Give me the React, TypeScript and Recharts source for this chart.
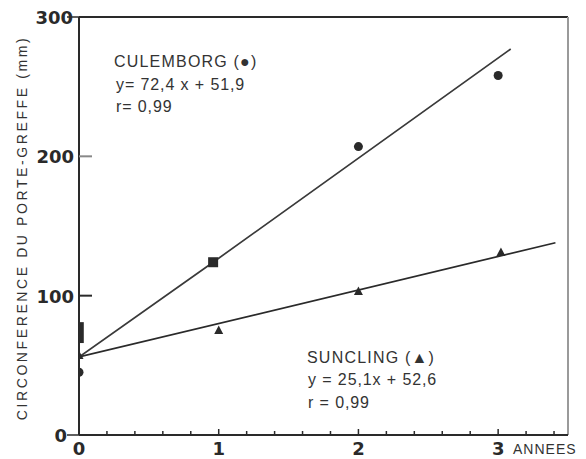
import React from "react";
import {
  ComposedChart,
  Line,
  ReferenceLine,
  Scatter,
  XAxis,
  YAxis
} from "recharts";

// x = années, y = circonférence du porte-greffe (mm)
const culemborgX = [0, 0.96, 2, 3];
const culemborgY = [45, 124, 207, 258];
const sunclingX = [0, 1, 2, 3.02];
const sunclingY = [57, 75, 103, 131];
// trait épais au départ (marques superposées à x = 0)
const overlapX = [0.02, 0.02];
const overlapY = [66, 81];

// droites de régression, extrémités
const culemborgFitX = [0, 0.96, 3.09];
const culemborgFitY = [56, 124, 277];
const sunclingFitX = [0, 3.41];
const sunclingFitY = [56, 138];

const xTicks = [0, 0.2, 0.4, 0.6, 0.8, 1, 1.2, 1.4, 1.6, 1.8, 2, 2.2, 2.4, 2.6, 2.8, 3, 3.2, 3.4];
const xLabels = ["0", "1", "2", "3"];
const yTicks = [0, 100, 200, 300];

const toPoints = (xs: number[], ys: number[]) => xs.map((x, i) => ({ x, y: ys[i] }));

const INK = "#2a2a2a";
const FONT = "'Liberation Sans', Arial, sans-serif";
const TICK_FONT = "'DejaVu Sans', sans-serif";

function XTick({ x, y, payload }: any) {
  const v = Number(payload.value);
  const major = Number.isInteger(v);
  return (
    <g>
      <line x1={x} x2={x} y1={y} y2={y - (major ? 6 : 4)} stroke={INK} strokeWidth={1.5} />
      {major && xLabels.includes(String(v)) && (
        <text x={x} y={y + 20} textAnchor="middle" fontFamily={TICK_FONT} fontWeight="bold" fontSize={18} fill={INK}>
          {String(v)}
        </text>
      )}
    </g>
  );
}

function YTick({ x, y, payload }: any) {
  const v = Number(payload.value);
  const inward = v === 100 || v === 200;
  return (
    <g>
      {inward ? (
        <line x1={x} x2={x + 13} y1={y} y2={y} stroke={v === 200 ? "#888" : INK} strokeWidth={2} />
      ) : (
        <line x1={x - 12} x2={x} y1={y} y2={y} stroke={INK} strokeWidth={1.5} />
      )}
      <text
        x={inward ? x - 5 : v === 0 ? x - 12 : x - 6}
        y={y + 7}
        textAnchor="end"
        fontFamily={TICK_FONT}
        fontWeight="bold"
        fontSize={18}
        fill={INK}
      >
        {String(v)}
      </text>
    </g>
  );
}

function Dot({ cx, cy, index }: any) {
  if (index === 1) {
    return <rect x={cx - 5} y={cy - 5} width={10} height={10} fill={INK} />;
  }
  return <circle cx={cx} cy={cy} r={4.5} fill={INK} />;
}

function Tri({ cx, cy }: any) {
  return <path d={`M${cx},${cy - 5} L${cx + 4.5},${cy + 3.5} L${cx - 4.5},${cy + 3.5} Z`} fill={INK} />;
}

const textStyle: React.CSSProperties = {
  position: "absolute",
  fontFamily: FONT,
  fontSize: 16,
  color: "#333",
  whiteSpace: "nowrap",
  lineHeight: "16px"
};

export default function App() {
  return (
    <div style={{ position: "absolute", left: 0, top: 0, width: 586, height: 459, background: "#fff" }}>
      <ComposedChart width={586} height={459} margin={{ top: 17, right: 18, bottom: 0, left: 0 }}>
        <XAxis
          type="number"
          dataKey="x"
          domain={[0, 3.5]}
          ticks={xTicks}
          interval={0}
          tickSize={0}
          tickMargin={0}
          tickLine={false}
          axisLine={{ stroke: INK, strokeWidth: 2 }}
          tick={<XTick />}
          height={24}
          allowDataOverflow
        />
        <YAxis
          type="number"
          dataKey="y"
          domain={[0, 300]}
          ticks={yTicks}
          interval={0}
          tickSize={0}
          tickMargin={0}
          tickLine={false}
          axisLine={{ stroke: INK, strokeWidth: 2 }}
          tick={<YTick />}
          width={79}
          allowDataOverflow
        />
        <ReferenceLine y={300} stroke={INK} strokeWidth={2} ifOverflow="visible" />
        <ReferenceLine x={3.5} stroke="#9a9a9a" strokeWidth={2} ifOverflow="visible" />
        <Line
          data={toPoints(culemborgFitX, culemborgFitY)}
          dataKey="y"
          type="linear"
          stroke="#3a3a3a"
          strokeWidth={1.7}
          dot={false}
          isAnimationActive={false}
        />
        <Line
          data={toPoints(sunclingFitX, sunclingFitY)}
          dataKey="y"
          type="linear"
          stroke="#2a2a2a"
          strokeWidth={1.7}
          dot={false}
          isAnimationActive={false}
        />
        <Line
          data={toPoints(overlapX, overlapY)}
          dataKey="y"
          type="linear"
          stroke={INK}
          strokeWidth={4}
          dot={false}
          isAnimationActive={false}
        />
        <Scatter data={toPoints(culemborgX, culemborgY)} dataKey="y" shape={<Dot />} isAnimationActive={false} />
        <Scatter data={toPoints(sunclingX, sunclingY)} dataKey="y" shape={<Tri />} isAnimationActive={false} />
      </ComposedChart>

      <div
        style={{
          ...textStyle,
          fontSize: 14,
          letterSpacing: 2.6,
          left: 22,
          top: 228,
          transform: "translate(-50%, -50%) rotate(-90deg)"
        }}
      >
        CIRCONFERENCE DU PORTE-GREFFE (mm)
      </div>

      <div style={{ ...textStyle, left: 114, top: 54, letterSpacing: 1.2 }}>CULEMBORG (●)</div>
      <div style={{ ...textStyle, left: 116, top: 77, letterSpacing: 0.9 }}>y= 72,4 x + 51,9</div>
      <div style={{ ...textStyle, left: 116, top: 99, letterSpacing: 0.9 }}>r= 0,99</div>

      <div style={{ ...textStyle, left: 307, top: 350, letterSpacing: 1.2 }}>SUNCLING (▲)</div>
      <div style={{ ...textStyle, left: 308, top: 372, letterSpacing: 0.9 }}>y = 25,1x + 52,6</div>
      <div style={{ ...textStyle, left: 308, top: 395, letterSpacing: 0.9 }}>r = 0,99</div>

      <div style={{ ...textStyle, fontSize: 14, left: 513, top: 441, letterSpacing: 1 }}>ANNEES</div>
    </div>
  );
}
